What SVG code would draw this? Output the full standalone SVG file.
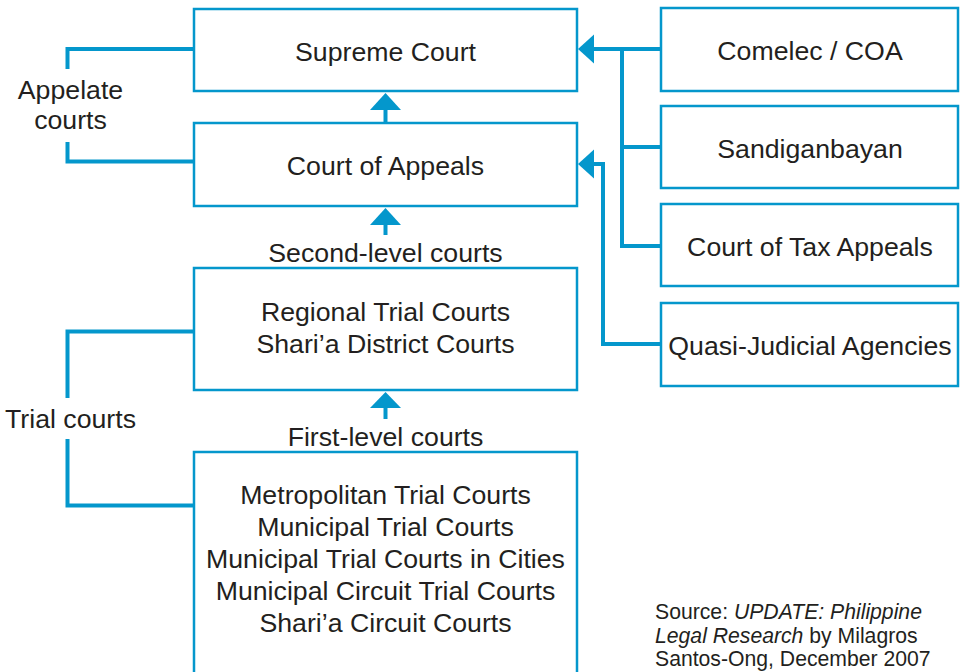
<svg xmlns="http://www.w3.org/2000/svg" width="961" height="672" viewBox="0 0 961 672">
  <style>
    .box { fill: #ffffff; stroke: #0497cc; stroke-width: 2.5; }
    .con { fill: none; stroke: #0497cc; stroke-width: 4; stroke-linecap: butt; stroke-linejoin: miter; }
    .head { fill: #0497cc; stroke: none; }
    .t { font-family: "Liberation Sans", Arial, Helvetica, sans-serif; font-size: 26.7px; fill: #231f20; text-anchor: middle; }
    .src { font-family: "Liberation Sans", Arial, Helvetica, sans-serif; font-size: 21.2px; fill: #231f20; }
  </style>
  <rect width="961" height="672" fill="#ffffff"/>

  <g id="connectors">
    <!-- appellate bracket -->
    <path class="con" d="M67.5,69 V49 H194"/>
    <path class="con" d="M67.5,142 V161.5 H194"/>
    <!-- trial bracket -->
    <path class="con" d="M67.5,398 V331.5 H194"/>
    <path class="con" d="M67.5,439 V505.5 H194"/>
    <!-- vertical arrows -->
    <path class="con" d="M385.5,122 V108"/>
    <polygon class="head" points="385.5,93 370,110 401,110"/>
    <path class="con" d="M385.5,235 V223"/>
    <polygon class="head" points="385.5,208 370,225 401,225"/>
    <path class="con" d="M385.5,419 V406"/>
    <polygon class="head" points="385.5,392 370,408 401,408"/>
    <!-- right side to Supreme Court -->
    <path class="con" d="M661,49 H592"/>
    <polygon class="head" points="578,49 594,34.5 594,63.5"/>
    <path class="con" d="M622,49 V246 H661"/>
    <path class="con" d="M622,147 H661"/>
    <!-- Quasi-judicial to Court of Appeals -->
    <path class="con" d="M661,344 H603 V164 H592"/>
    <polygon class="head" points="578,164 594,149.5 594,178.5"/>
  </g>

  <g id="supreme-court">
    <rect class="box" x="194" y="9" width="383" height="82"/>
    <text class="t" x="385.5" y="61">Supreme Court</text>
  </g>
  <g id="court-of-appeals">
    <rect class="box" x="194" y="123" width="383" height="83"/>
    <text class="t" x="385.5" y="175">Court of Appeals</text>
  </g>
  <g id="regional-trial-courts">
    <rect class="box" x="194" y="268" width="383" height="122"/>
    <text class="t" x="385.5" y="321">Regional Trial Courts</text>
    <text class="t" x="385.5" y="352.5">Shari’a District Courts</text>
  </g>
  <g id="first-level-courts">
    <rect class="box" x="194" y="452" width="383" height="240"/>
    <text class="t" x="385.5" y="504">Metropolitan Trial Courts</text>
    <text class="t" x="385.5" y="536">Municipal Trial Courts</text>
    <text class="t" x="385.5" y="568">Municipal Trial Courts in Cities</text>
    <text class="t" x="385.5" y="600">Municipal Circuit Trial Courts</text>
    <text class="t" x="385.5" y="632">Shari’a Circuit Courts</text>
  </g>
  <g id="comelec-coa">
    <rect class="box" x="661" y="8" width="297" height="83"/>
    <text class="t" x="810" y="60">Comelec / COA</text>
  </g>
  <g id="sandiganbayan">
    <rect class="box" x="661" y="106" width="297" height="82"/>
    <text class="t" x="810" y="158">Sandiganbayan</text>
  </g>
  <g id="court-of-tax-appeals">
    <rect class="box" x="661" y="204" width="297" height="82"/>
    <text class="t" x="810" y="256">Court of Tax Appeals</text>
  </g>
  <g id="quasi-judicial-agencies">
    <rect class="box" x="661" y="303" width="297" height="83"/>
    <text class="t" x="810" y="355">Quasi-Judicial Agencies</text>
  </g>

  <g id="labels">
    <text class="t" x="70.5" y="99">Appelate</text>
    <text class="t" x="70.5" y="129">courts</text>
    <text class="t" x="70.5" y="428">Trial courts</text>
    <text class="t" x="385.5" y="262">Second-level courts</text>
    <text class="t" x="385.5" y="446">First-level courts</text>
  </g>

  <g id="source">
    <text class="src" x="655" y="619">Source: <tspan font-style="italic">UPDATE: Philippine</tspan></text>
    <text class="src" x="655" y="642.5"><tspan font-style="italic">Legal Research</tspan> by Milagros</text>
    <text class="src" x="655" y="666">Santos-Ong, December 2007</text>
  </g>
</svg>
